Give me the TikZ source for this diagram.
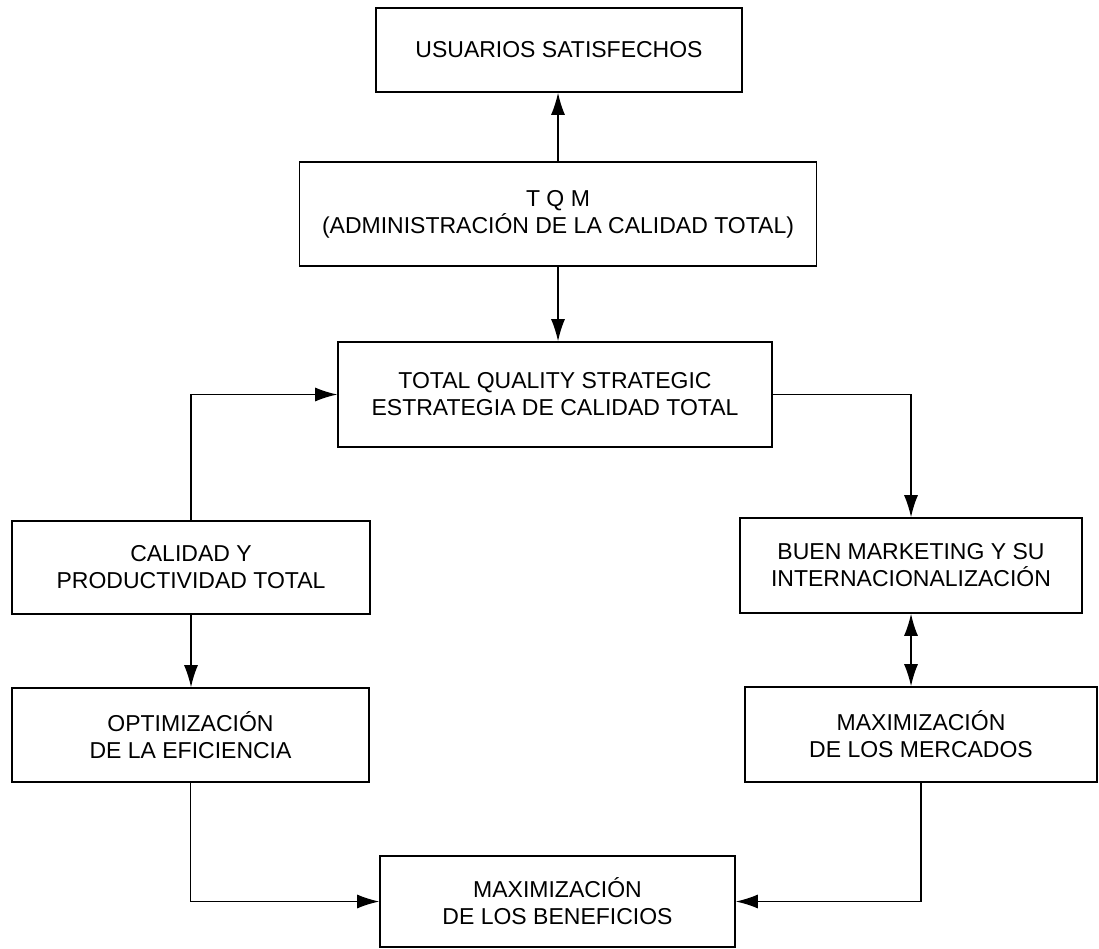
\documentclass[tikz,border=0pt]{standalone}
\usepackage{fontspec}
\setmainfont{Liberation Sans}
\usetikzlibrary{arrows.meta}
\begin{document}
\begin{tikzpicture}[x=1pt,y=-1pt,
  box/.style={draw, line width=1.6pt, align=center, inner sep=0pt,
              font=\fontsize{23}{27}\selectfont},
  tip/.style={Latex[length=22pt,width=14pt]},
  link/.style={line width=1.3pt, -{Latex[length=22pt,width=14pt]}},
  duallink/.style={line width=1.3pt, {Latex[length=22pt,width=14pt]}-{Latex[length=22pt,width=14pt]}},
]
\useasboundingbox (0,0) rectangle (1099,949);

% centre column
\node[box, minimum width=366pt, minimum height=84pt]  (usuarios) at (559,50)    {USUARIOS SATISFECHOS};
\node[box, minimum width=517pt, minimum height=104pt] (tqm)      at (558,214)   {T Q M\\(ADMINISTRACIÓN DE LA CALIDAD TOTAL)};
\node[box, minimum width=434pt, minimum height=105pt] (strat)    at (555,394.5) {TOTAL QUALITY STRATEGIC\\ESTRATEGIA DE CALIDAD TOTAL};
\node[box, minimum width=355pt, minimum height=91pt]  (maxben)   at (557.5,901.5) {MAXIMIZACIÓN\\DE LOS BENEFICIOS};

% left column
\node[box, minimum width=358pt, minimum height=93pt]  (calidad)  at (191,567.5) {CALIDAD Y\\PRODUCTIVIDAD TOTAL};
\node[box, minimum width=357pt, minimum height=94pt]  (optim)    at (190.5,735) {OPTIMIZACIÓN\\DE LA EFICIENCIA};

% right column
\node[box, minimum width=342pt, minimum height=95pt]  (buen)     at (911,565.5) {BUEN MARKETING Y SU\\INTERNACIONALIZACIÓN};
\node[box, minimum width=352pt, minimum height=95pt]  (merc)     at (921,734.5) {MAXIMIZACIÓN\\DE LOS MERCADOS};

% connectors
\draw[link] (tqm.north) -- (tqm.north |- usuarios.south);
\draw[link] (tqm.south) -- (tqm.south |- strat.north);
\draw[link] (calidad.north) |- (strat.west);
\draw[link] (strat.east) -| (buen.north);
\draw[link] (calidad.south) -- (calidad.south |- optim.north);
\draw[duallink] (buen.south) -- (buen.south |- merc.north);
\draw[link] (optim.south) |- (maxben.west);
\draw[link] (merc.south) |- (maxben.east);
\end{tikzpicture}
\end{document}
